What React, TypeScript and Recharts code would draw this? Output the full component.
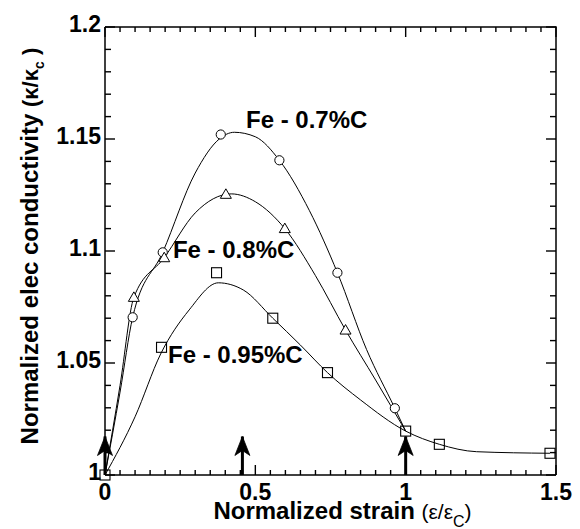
import React from 'react';
import { ComposedChart, Line, Scatter, XAxis, YAxis } from 'recharts';

// ---- measured markers ----
const strain07 = [0.092, 0.192, 0.385, 0.58, 0.773, 0.964];
const cond07 = [1.0704, 1.0994, 1.152, 1.1405, 1.0903, 1.0298];

const strain08 = [0.096, 0.197, 0.402, 0.598, 0.8];
const cond08 = [1.0793, 1.097, 1.1253, 1.11, 1.0647];

const strain095 = [0, 0.188, 0.371, 0.558, 0.74, 1.0, 1.112, 1.48];
const cond095 = [1.0, 1.057, 1.0903, 1.07, 1.0457, 1.0196, 1.0137, 1.0097];

// ---- fitted curves ----
const fitX07 = [0, 0.05, 0.092, 0.192, 0.3, 0.38, 0.43, 0.5, 0.58, 0.68, 0.773, 0.87, 0.964, 1.0];
const fitY07 = [1.0, 1.037, 1.0704, 1.0994, 1.1348, 1.150, 1.153, 1.151, 1.1405, 1.118, 1.0903, 1.056, 1.0298, 1.0196];

const fitX08 = [0, 0.05, 0.096, 0.197, 0.3, 0.42, 0.5, 0.598, 0.7, 0.8, 0.9, 1.0];
const fitY08 = [1.0, 1.04, 1.0793, 1.097, 1.117, 1.1255, 1.122, 1.11, 1.089, 1.0647, 1.0424, 1.0196];

const fitX095 = [0, 0.1, 0.185, 0.28, 0.377, 0.46, 0.558, 0.65, 0.74, 0.85, 1.0, 1.112, 1.236, 1.48];
const fitY095 = [1.0, 1.026, 1.054, 1.0737, 1.0858, 1.0826, 1.07, 1.058, 1.0457, 1.0335, 1.0196, 1.0137, 1.0104, 1.0097];

// ---- arrows ----
const arrowX = [0, 0.457, 1.0];
const arrowBase = 1.0;
const arrowTip = 1.0172;

// ---- annotations ----
const annoText = ['Fe - 0.7%C', 'Fe - 0.8%C', 'Fe - 0.95%C'];
const annoX = [0.469, 0.226, 0.2095];
const annoY = [1.1549, 1.0969, 1.05];

// ---- axes / ticks ----
const xMin = 0;
const xMax = 1.5;
const yMin = 1;
const yMax = 1.2;
const xMajor = [0, 0.5, 1, 1.5];
const yMajor = [1, 1.05, 1.1, 1.15, 1.2];
const xTicks = Array.from({ length: 31 }, (_, i) => +(i * 0.05).toFixed(2));
const yTicks = Array.from({ length: 21 }, (_, i) => +(1 + i * 0.01).toFixed(2));

const toPts = (xs: number[], ys: number[]) => xs.map((x, i) => ({ x, y: ys[i] }));

const W = 580;
const H = 529;
const PLOT_LEFT = 105;
const PLOT_TOP = 27;
const PLOT_RIGHT_GAP = 24;
const PLOT_BOTTOM_GAP = 54;

const FONT = '"Liberation Sans", Arial, Helvetica, sans-serif';
const isMajor = (v: number, majors: number[]) => majors.some((m) => Math.abs(m - v) < 1e-6);

const xLabelTick = (props: any) => {
  const { x, y, payload } = props;
  if (!isMajor(payload.value, xMajor)) return <g />;
  return (
    <text x={x} y={y + 25} textAnchor="middle" fontFamily={FONT} fontWeight="bold" fontSize={23} fill="#000">
      {String(payload.value)}
    </text>
  );
};
const yLabelTick = (props: any) => {
  const { x, y, payload } = props;
  return (
    <text x={x - 4} y={y + 5} textAnchor="end" fontFamily={FONT} fontWeight="bold" fontSize={23} fill="#000">
      {String(payload.value)}
    </text>
  );
};

const TW = 1.4;
const tickMarkShape = (p: any) => {
  const { cx, cy, payload } = p;
  const side = payload && payload.side;
  if (side === 'bottom' || side === 'top') {
    const len = isMajor(payload.x, xMajor) ? 10 : 5;
    const y0 = side === 'bottom' ? cy - len : cy;
    return <rect x={cx - TW / 2} y={y0} width={TW} height={len} fill="#000" />;
  }
  const len = payload && isMajor(payload.y, yMajor) ? 10 : 6;
  const x0 = side === 'left' ? cx : cx - len;
  return <rect x={x0} y={cy - TW / 2} width={len} height={TW} fill="#000" />;
};

const circleShape = (p: any) => <circle cx={p.cx} cy={p.cy} r={4.6} fill="#fff" stroke="#000" strokeWidth={1} />;
const triShape = (p: any) => (
  <polygon
    points={`${p.cx},${p.cy - 5.5} ${p.cx - 5.5},${p.cy + 4} ${p.cx + 5.5},${p.cy + 4}`}
    fill="#fff"
    stroke="#000"
    strokeWidth={1}
  />
);
const sqShape = (p: any) => (
  <rect x={p.cx - 5} y={p.cy - 5} width={10} height={10} fill="none" stroke="#000" strokeWidth={1.1} />
);
const arrowHeadShape = (p: any) => (
  <path
    d={`M${p.cx},${p.cy} L${p.cx + 7.5},${p.cy + 19} L${p.cx},${p.cy + 14} L${p.cx - 7.5},${p.cy + 19} Z`}
    fill="#000"
    stroke="#000"
    strokeWidth={0.8}
  />
);

const textShape = (p: any) => {
  const { cx, cy, payload } = p;
  if (payload.kind === 'xtitle') {
    return (
      <text x={cx} y={cy + 44} textAnchor="middle" fontFamily={FONT} fontWeight="bold" fontSize={24} fill="#000">
        <tspan>Normalized strain </tspan>
        <tspan fontSize={21} fontWeight="normal">(ε/ε</tspan>
        <tspan fontSize={16} dy={8} fontWeight="normal">C</tspan>
        <tspan fontSize={21} dy={-8} fontWeight="normal">)</tspan>
      </text>
    );
  }
  if (payload.kind === 'ytitle') {
    return (
      <text transform={`translate(${cx - 67}, ${cy}) rotate(-90)`} textAnchor="middle" fontFamily={FONT} fontWeight="bold" fontSize={24} fill="#000">
        <tspan>Normalized elec conductivity </tspan>
        <tspan fontSize={22}>(κ/κ</tspan>
        <tspan fontSize={14} dy={6}>c</tspan>
        <tspan fontSize={22} dy={-6}> )</tspan>
      </text>
    );
  }
  return (
    <text x={cx} y={cy} textAnchor="start" fontFamily={FONT} fontWeight="bold" fontSize={24} fill="#000">
      {payload.text}
    </text>
  );
};

// Frame and inward tick marks live in a second, simple chart laid exactly over the first
function FrameOverlay() {
  const frame = [
    { x: xMin, y: yMax },
    { x: xMax, y: yMax },
    { x: xMax, y: yMin },
  ];
  const tickPts = [
    ...xTicks.map((v) => ({ x: v, y: yMin, side: 'bottom' })),
    ...xTicks.map((v) => ({ x: v, y: yMax, side: 'top' })),
    ...yTicks.map((v) => ({ x: xMin, y: v, side: 'left' })),
    ...yTicks.map((v) => ({ x: xMax, y: v, side: 'right' })),
  ];
  return (
    <ComposedChart
      width={W}
      height={H}
      margin={{ top: PLOT_TOP, right: PLOT_RIGHT_GAP, left: PLOT_LEFT, bottom: PLOT_BOTTOM_GAP }}
    >
      <XAxis type="number" dataKey="x" domain={[xMin, xMax]} hide />
      <YAxis type="number" dataKey="y" domain={[yMin, yMax]} hide />
      <Line data={frame} dataKey="y" type="linear" stroke="#000" strokeWidth={1.5} dot={false} activeDot={false} isAnimationActive={false} />
      <Scatter data={tickPts} dataKey="y" shape={tickMarkShape} isAnimationActive={false} />
    </ComposedChart>
  );
}

function MainChart() {
  const texts = [
    ...annoText.map((t, i) => ({ x: annoX[i], y: annoY[i], text: t, kind: 'anno' })),
    { x: 0.79, y: yMin, text: '', kind: 'xtitle' },
    { x: xMin, y: 1.1022, text: '', kind: 'ytitle' },
  ];
  const arrowTips = arrowX.map((ax) => ({ x: ax, y: arrowTip }));
  return (
    <ComposedChart width={W} height={H} margin={{ top: PLOT_TOP, right: PLOT_RIGHT_GAP, left: 0, bottom: 0 }}>
      <XAxis
        type="number"
        dataKey="x"
        domain={[xMin, xMax]}
        ticks={xTicks}
        interval={0}
        tickSize={0}
        tickMargin={0}
        tickLine={false}
        height={PLOT_BOTTOM_GAP}
        axisLine={{ stroke: '#000', strokeWidth: 1.5 }}
        tick={xLabelTick}
      />
      <YAxis
        type="number"
        dataKey="y"
        domain={[yMin, yMax]}
        ticks={yMajor}
        interval={0}
        tickSize={0}
        tickMargin={0}
        tickLine={false}
        width={PLOT_LEFT}
        axisLine={{ stroke: '#000', strokeWidth: 1.5 }}
        tick={yLabelTick}
      />

      <Line data={toPts(fitX07, fitY07)} dataKey="y" type="monotone" stroke="#000" strokeWidth={1} dot={false} activeDot={false} isAnimationActive={false} />
      <Line data={toPts(fitX08, fitY08)} dataKey="y" type="monotone" stroke="#000" strokeWidth={1} dot={false} activeDot={false} isAnimationActive={false} />
      <Line data={toPts(fitX095, fitY095)} dataKey="y" type="monotone" stroke="#000" strokeWidth={1} dot={false} activeDot={false} isAnimationActive={false} />

      {arrowX.map((ax, i) => (
        <Line
          key={`arrow${i}`}
          data={[{ x: ax, y: arrowBase }, { x: ax, y: arrowTip }]}
          dataKey="y"
          type="linear"
          stroke="#000"
          strokeWidth={3}
          dot={false}
          activeDot={false}
          isAnimationActive={false}
        />
      ))}
      <Scatter data={arrowTips} dataKey="y" shape={arrowHeadShape} isAnimationActive={false} />

      <Scatter data={toPts(strain07, cond07)} dataKey="y" shape={circleShape} isAnimationActive={false} />
      <Scatter data={toPts(strain08, cond08)} dataKey="y" shape={triShape} isAnimationActive={false} />
      <Scatter data={toPts(strain095, cond095)} dataKey="y" shape={sqShape} isAnimationActive={false} />
      <Scatter data={texts} dataKey="y" shape={textShape} isAnimationActive={false} />
    </ComposedChart>
  );
}

export default function App() {
  return (
    <div style={{ position: 'absolute', left: 0, top: 0, width: W, height: H, background: '#fff' }}>
      <div style={{ position: 'absolute', left: 0, top: 0 }}>
        <MainChart />
      </div>
      <div style={{ position: 'absolute', left: 0, top: 0, pointerEvents: 'none' }}>
        <FrameOverlay />
      </div>
    </div>
  );
}
